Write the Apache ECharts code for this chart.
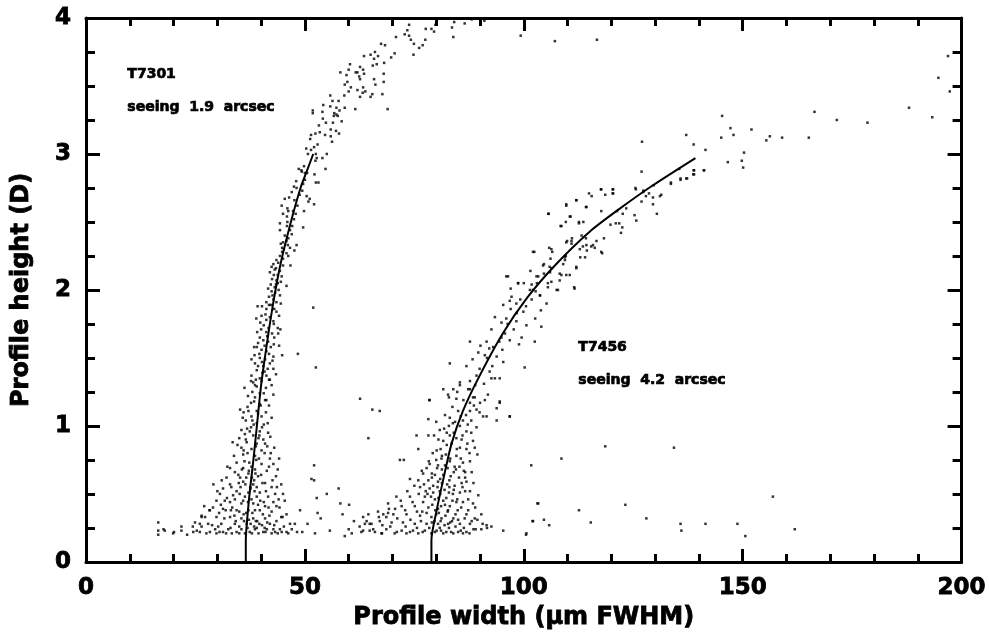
<!DOCTYPE html>
<html>
<head>
<meta charset="utf-8">
<script src="https://cdn.jsdelivr.net/npm/echarts@6/dist/echarts.min.js"></script>
<style>html,body{margin:0;padding:0;background:#fff}#c{width:989px;height:635px}</style>
</head>
<body>
<div id="c"></div>
<script>
// ---- Data (Profile width in um FWHM, Profile height in D) ----
const xTicks = [0, 50, 100, 150, 200];
const yTicks = [0, 1, 2, 3, 4];

const t7301Fit = [[36.5,0],[36.5,0.15],[37.2,0.45],[38.2,0.74],[39.1,1.02],[40.0,1.3],[41.3,1.6],[42.8,1.91],[44.5,2.2],[46.8,2.5],[49.0,2.75],[50.4,2.87],[51.9,3.0]];
const t7456Fit = [[78.9,0],[78.9,0.16],[80.1,0.38],[81.7,0.62],[83.5,0.87],[86.1,1.11],[89.6,1.35],[95.2,1.68],[100.7,1.94],[107.1,2.18],[115.1,2.43],[122.0,2.6],[129.5,2.77],[139.2,2.97]];

const t7301Upper = [
[73.8,3.95],[73.4,3.91],[72.8,3.88],[73.8,3.87],[74.2,3.84],[74.9,3.81],[74.8,3.73],[76.1,3.78],[76.9,3.80],[77.5,3.84],
[77.6,3.92],[78.9,3.92],[79.5,3.90],[79.8,3.95],[83.9,3.86],[84.1,3.97],[70.8,3.86],[67.4,3.81],[68.3,3.80],[66.0,3.75],
[65.0,3.73],[66.7,3.72],[65.8,3.70],[63.5,3.72],[70.5,3.74],[69.7,3.71],[68.1,3.67],[65.5,3.65],[66.4,3.66],[62.6,3.64],
[63.3,3.62],[61.6,3.60],[62.0,3.60],[60.3,3.66],[60.0,3.62],[59.5,3.58],[58.1,3.60],[62.4,3.57],[62.6,3.55],[63.5,3.59],
[68.0,3.59],[65.8,3.55],[68.0,3.53],[66.1,3.51],[59.7,3.53],[59.1,3.51],[60.5,3.49],[63.3,3.49],[62.0,3.47],[63.8,3.46],
[63.2,3.45],[60.0,3.46],[59.0,3.43],[62.6,3.42],[65.4,3.44],[65.0,3.42],[67.7,3.44],[55.8,3.43],[54.2,3.36],[56.3,3.39],
[57.7,3.39],[57.2,3.34],[55.8,3.35],[59.1,3.34],[61.5,3.33],[68.9,3.33],[51.8,3.32],[51.8,3.30],[54.0,3.31],[56.7,3.30],
[57.2,3.29],[57.9,3.32],[56.6,3.28],[57.5,3.28],[54.1,3.26],[58.4,3.24],[53.2,3.21],[54.8,3.23],[56.4,3.23],[55.9,3.18],
[53.4,3.16],[57.1,3.17],[57.8,3.15],[52.4,3.15],[51.4,3.14],[51.2,3.11],[54.6,3.14],[55.9,3.13],[56.2,3.09],[52.9,3.07],
[52.1,3.05],[50.3,3.04],[51.4,3.03],[50.7,3.00],[52.5,3.00],[55.0,3.00],[54.0,2.97],[52.7,2.97],[52.4,2.95],[49.8,2.91],
[48.6,2.89],[49.3,2.87],[54.7,2.89],[50.5,2.86],[83.6,3.93],[88.1,3.99],[99.3,3.87],[86.5,3.96],[91.0,3.98]
];

const t7301Mid = [
[49.2,2.88],[50.0,2.86],[52.2,2.85],[53.1,2.79],[52.5,2.79],[49.6,2.78],[47.5,2.76],[48.1,2.75],[47.0,2.72],[46.4,2.68],
[45.4,2.67],[50.4,2.69],[51.1,2.67],[50.8,2.65],[52.1,2.63],[44.7,2.62],[46.0,2.60],[47.3,2.58],[49.8,2.58],[45.0,2.56],
[47.9,2.56],[45.9,2.54],[44.3,2.49],[46.0,2.50],[47.1,2.47],[49.6,2.46],[44.3,2.44],[47.0,2.41],[46.2,2.38],[45.0,2.35],
[44.5,2.34],[45.8,2.36],[48.1,2.33],[45.2,2.30],[46.6,2.31],[47.6,2.29],[44.8,2.28],[45.8,2.27],[44.3,2.25],[43.5,2.22],
[45.0,2.23],[46.2,2.25],[42.8,2.19],[42.4,2.17],[46.7,2.18],[43.4,2.16],[44.3,2.14],[42.0,2.13],[42.9,2.11],[43.8,2.11],
[44.7,2.10],[42.5,2.08],[43.5,2.07],[45.8,2.03],[43.8,2.05],[41.6,2.01],[42.4,1.99],[43.2,1.98],[44.3,1.96],[41.8,1.95],
[42.8,1.93],[41.2,1.91],[43.5,1.91],[44.5,1.90],[39.2,1.88],[40.2,1.88],[42.2,1.89],[41.2,1.86],[43.5,1.84],[40.1,1.81],
[42.0,1.80],[44.1,1.81],[41.2,1.78],[42.8,1.77],[40.6,1.74],[43.8,1.72],[44.4,1.71],[39.1,1.69],[41.2,1.69],[42.5,1.68],
[39.7,1.65],[40.5,1.63],[43.0,1.65],[39.3,1.61],[41.6,1.62],[42.2,1.58],[44.1,1.59],[40.1,1.56],[41.2,1.55],[38.5,1.52],
[42.8,1.51],[37.8,1.49],[39.7,1.50],[40.9,1.49],[38.6,1.46],[42.0,1.46],[39.3,1.44],[40.5,1.44],[42.8,1.42],[37.8,1.37],
[38.8,1.34],[39.7,1.35],[41.2,1.37],[41.8,1.34],[42.4,1.30],[38.2,1.32],[40.8,1.40],[39.0,1.58],[41.7,1.72],[43.1,2.02],
[40.3,1.39],[41.5,1.42],[39.0,1.41],[42.6,1.48],[40.2,1.47],[41.8,1.53],[39.6,1.53],[40.8,1.59],[42.9,1.60],[41.4,1.66],
[40.0,1.71],[42.9,1.75],[41.0,1.82],[43.0,1.86],[41.8,1.89],[42.6,1.96],[44.0,2.00],[43.4,2.04],[42.2,2.04],[44.5,2.06],
[43.1,2.15],[45.0,2.18],[43.9,2.20],[44.8,2.31],[46.1,2.33],[45.4,2.40],[46.6,2.44],[45.9,2.47],[47.5,2.52],[46.2,2.58],
[48.3,2.62],[47.6,2.66],[48.8,2.70],[49.4,2.73],[48.0,2.80],[50.0,2.81],[39.8,1.76],[38.9,1.79],[43.9,1.68],[44.8,1.52],
[38.4,1.58],[43.4,1.38]
];

const t7301Low = [
[37.7,1.33],[40.1,1.33],[42.0,1.34],[39.0,1.29],[41.1,1.28],[39.7,1.24],[42.8,1.23],[38.6,1.21],[40.9,1.19],[37.7,1.17],
[39.7,1.16],[41.8,1.15],[35.2,1.12],[37.1,1.11],[39.0,1.11],[41.1,1.10],[37.8,1.07],[40.1,1.07],[42.4,1.06],[36.5,1.04],
[39.0,1.02],[40.6,1.01],[37.7,0.99],[35.5,0.97],[39.7,0.96],[41.6,0.95],[36.3,0.94],[38.2,0.93],[35.0,0.91],[40.5,0.90],
[33.5,0.88],[36.7,0.88],[39.0,0.87],[41.4,0.85],[35.5,0.84],[37.8,0.83],[40.1,0.82],[35.9,0.79],[38.6,0.78],[42.0,0.76],
[44.1,0.76],[34.4,0.73],[37.3,0.73],[40.1,0.72],[42.8,0.72],[32.9,0.69],[35.9,0.69],[38.6,0.68],[41.3,0.67],[43.4,0.63],
[34.0,0.66],[37.1,0.65],[39.3,0.63],[32.1,0.62],[35.2,0.62],[29.1,0.57],[32.9,0.57],[35.9,0.59],[38.2,0.57],[40.9,0.58],
[42.4,0.55],[31.3,0.54],[34.4,0.52],[37.1,0.51],[39.7,0.51],[30.6,0.50],[33.6,0.49],[36.3,0.48],[39.0,0.48],[41.6,0.48],
[45.4,0.45],[29.8,0.45],[32.9,0.44],[35.5,0.43],[38.2,0.43],[40.9,0.41],[43.5,0.41],[28.3,0.38],[31.3,0.39],[34.4,0.38],
[37.1,0.38],[39.7,0.38],[42.4,0.37],[45.8,0.35],[26.4,0.34],[29.8,0.33],[32.9,0.33],[35.5,0.32],[38.2,0.32],[40.9,0.32],
[43.5,0.30],[24.9,0.29],[27.9,0.28],[30.9,0.28],[34.0,0.28],[36.7,0.28],[39.6,0.28],[42.0,0.28],[46.6,0.28],[47.7,0.28],
[26.4,0.26],[29.5,0.24],[32.5,0.24],[35.5,0.24],[38.6,0.24],[41.3,0.24],[44.3,0.24],[24.5,0.22],[28.3,0.22],[31.3,0.22],
[34.4,0.22],[37.4,0.22],[40.5,0.22],[43.2,0.22],[44.7,0.22],[29.8,0.21],[33.3,0.21],[36.3,0.21],[39.4,0.21],[42.4,0.21],
[38.0,1.25],[36.8,0.98],[38.9,0.75],[37.5,0.55],[36.0,0.35],[38.8,0.30],[37.9,0.62],[39.4,0.91],[36.9,0.80],[40.3,0.58],
[38.5,0.52],[37.0,0.44],[39.8,0.45],[41.7,0.40],[36.4,0.57],[35.1,0.50],[38.0,0.36],[40.2,0.27],[37.2,0.31],[38.4,0.26],
[16.5,0.29],[16.5,0.23],[16.5,0.20],[17.7,0.24],[18.0,0.23],[19.9,0.21],[20.1,0.22],[21.8,0.26],[21.8,0.23],[23.1,0.20],
[24.4,0.26],[26.0,0.28],[26.4,0.33],[28.2,0.38],[25.3,0.23],[30.4,0.36],[27.0,0.41],[31.7,0.45],[33.4,0.40],[44.6,0.33],
[36.2,1.28],[38.4,1.18],[40.6,1.24],[36.9,1.14],[39.3,1.09],[41.5,1.02],[35.8,1.06],[38.0,1.04],[40.2,0.99],[37.4,0.96],
[39.6,0.93],[42.1,0.92],[34.6,0.86],[36.5,0.90],[38.8,0.85],[40.8,0.80],[43.0,0.84],[33.8,0.78],[36.2,0.74],[37.8,0.70],
[39.5,0.76],[41.8,0.70],[43.8,0.68],[32.3,0.70],[34.8,0.64],[36.6,0.62],[38.4,0.60],[40.0,0.64],[42.6,0.60],[44.6,0.57],
[31.0,0.60],[33.2,0.55],[35.3,0.55],[37.6,0.54],[39.0,0.55],[41.1,0.52],[43.2,0.50],[30.0,0.52],[32.2,0.47],[34.0,0.46],
[35.9,0.45],[37.8,0.46],[39.3,0.42],[40.6,0.44],[42.8,0.44],[44.2,0.40],[29.0,0.40],[30.8,0.42],[33.1,0.38],[35.0,0.37],
[36.6,0.36],[38.6,0.38],[40.4,0.35],[41.9,0.34],[44.9,0.33],[27.2,0.33],[31.6,0.32],[34.2,0.30],[36.1,0.30],[37.6,0.28],
[39.1,0.30],[41.4,0.29],[43.0,0.27],[45.2,0.26],[47.0,0.24],[28.8,0.27],[30.2,0.26],[33.0,0.25],[35.0,0.26],[36.9,0.25],
[39.0,0.25],[40.8,0.25],[42.8,0.24],[45.8,0.22],[26.0,0.22],[27.5,0.21],[30.5,0.22],[32.0,0.21],[35.0,0.21],[37.9,0.21],
[41.0,0.22],[43.8,0.21],[46.2,0.21],[48.2,0.22],[38.6,1.30],[37.0,1.22],[39.9,1.15],[38.3,1.01],[36.0,0.82],[40.9,0.87],
[37.2,0.67],[42.2,0.80],[35.6,0.68],[38.7,0.65],[34.9,0.58],[43.6,0.55],[31.9,0.38],[33.9,0.34],[44.0,0.46],[45.0,0.50],
[36.0,1.10],[41.2,1.19]
];

const t7456Low = [
[87.7,1.33],[87.3,1.27],[85.4,1.30],[92.6,1.35],[94.5,1.35],[91.8,1.23],[81.6,1.27],[82.9,1.21],[84.6,1.20],[88.4,1.21],
[87.7,1.17],[91.1,1.19],[94.5,1.17],[93.8,1.13],[89.2,1.12],[85.0,1.11],[87.7,1.11],[90.7,1.07],[96.8,1.07],[93.8,1.04],
[88.0,1.04],[86.1,1.04],[83.1,1.06],[78.2,1.05],[82.9,1.00],[85.4,1.00],[89.2,0.99],[80.8,0.97],[86.9,0.96],[78.2,0.93],
[79.5,0.93],[83.1,0.93],[84.6,0.91],[75.5,0.93],[88.4,0.89],[81.6,0.89],[83.5,0.87],[85.4,0.84],[86.9,0.83],[88.8,0.84],
[75.9,0.83],[80.1,0.82],[82.2,0.79],[84.6,0.78],[89.4,0.79],[81.2,0.76],[83.1,0.74],[86.1,0.73],[87.7,0.74],[71.7,0.75],
[72.6,0.75],[78.5,0.72],[80.4,0.71],[77.8,0.69],[82.6,0.69],[84.5,0.68],[86.3,0.67],[88.1,0.66],[77.0,0.65],[79.7,0.64],
[81.6,0.64],[83.3,0.63],[85.2,0.62],[86.9,0.59],[74.0,0.61],[75.9,0.60],[78.2,0.60],[80.4,0.59],[82.5,0.57],[84.2,0.56],
[76.3,0.55],[78.5,0.54],[80.8,0.52],[82.9,0.51],[85.4,0.51],[87.7,0.52],[89.6,0.49],[70.9,0.48],[74.0,0.48],[77.4,0.48],
[79.7,0.46],[81.6,0.45],[83.7,0.45],[86.1,0.44],[88.4,0.43],[69.0,0.43],[72.1,0.41],[75.1,0.41],[78.2,0.40],[80.4,0.39],
[82.7,0.38],[84.9,0.38],[87.3,0.38],[90.3,0.35],[66.7,0.37],[70.2,0.35],[73.2,0.35],[76.3,0.34],[78.9,0.33],[81.2,0.32],
[83.9,0.32],[86.5,0.32],[88.8,0.32],[64.1,0.30],[67.1,0.30],[69.8,0.29],[72.4,0.29],[75.1,0.28],[77.8,0.28],[80.4,0.28],
[82.7,0.28],[85.4,0.28],[87.7,0.28],[91.5,0.27],[92.6,0.26],[65.6,0.24],[68.6,0.24],[72.1,0.23],[74.7,0.23],[77.4,0.23],
[80.1,0.23],[82.3,0.22],[85.0,0.22],[86.9,0.22],[63.3,0.23],[67.5,0.21],[70.5,0.21],[73.2,0.21],[75.9,0.21],[78.9,0.21],
[81.6,0.21],[83.9,0.21],[86.1,0.21],[91.6,0.25],[90.3,0.24],[78.4,1.19],
[80.9,0.50],[79.0,0.62],[81.0,0.83],[82.0,0.42],[79.6,0.30],[83.0,0.55],[84.2,0.70],[80.6,0.36],[81.9,0.27],[84.8,0.46],
[79.3,0.51],[80.0,0.75],[85.8,0.90],[83.8,1.02],[82.4,0.95],[76.8,0.37],[77.6,0.52],[81.3,0.58],[86.6,0.62],[83.6,0.30],
[84.8,1.25],[86.2,1.19],[83.7,1.14],[88.6,1.15],[85.6,1.07],[84.3,1.03],[87.2,1.01],[81.8,0.98],[84.0,0.95],[86.0,0.93],
[80.5,0.90],[82.4,0.86],[84.7,0.83],[87.6,0.80],[79.2,0.80],[81.3,0.78],[83.2,0.76],[85.6,0.76],[78.3,0.74],[80.2,0.69],
[82.0,0.71],[84.0,0.66],[86.6,0.66],[76.7,0.67],[79.0,0.65],[80.9,0.61],[83.0,0.60],[85.8,0.58],[88.5,0.58],[75.0,0.56],
[77.2,0.57],[79.3,0.56],[81.9,0.53],[84.0,0.53],[86.6,0.52],[73.4,0.52],[76.0,0.50],[78.0,0.50],[80.5,0.47],[82.3,0.47],
[84.6,0.44],[87.3,0.46],[71.9,0.45],[74.6,0.44],[77.0,0.44],[79.1,0.42],[81.1,0.41],[83.1,0.41],[85.7,0.40],[88.9,0.40],
[70.6,0.39],[72.9,0.38],[75.6,0.37],[77.8,0.36],[80.0,0.35],[82.1,0.34],[84.4,0.35],[86.9,0.35],[89.4,0.31],[68.6,0.33],
[71.1,0.32],[74.1,0.31],[76.5,0.30],[79.0,0.29],[81.0,0.30],[83.2,0.29],[85.0,0.31],[88.1,0.30],[90.6,0.28],[69.5,0.26],
[73.0,0.26],[75.6,0.25],[78.4,0.25],[80.8,0.25],[82.9,0.25],[84.4,0.26],[86.3,0.25],[89.0,0.24],[71.0,0.22],[74.0,0.22],
[76.9,0.22],[79.7,0.22],[81.1,0.23],[83.4,0.22],[85.6,0.23],[87.6,0.21],[88.5,0.24],[66.0,0.22],[62.5,0.26],[61.2,0.30],
[60.0,0.24],[64.8,0.28],[69.0,0.36],[86.8,1.08],[89.9,1.10],[88.0,0.95],[82.0,1.08],[80.0,1.03],[87.1,0.87],[85.3,0.70],
[81.3,0.68],[83.8,0.50],[86.0,0.55],[80.3,0.55],[78.8,0.48],[82.6,0.37],[79.8,0.38]
];

const t7456Upper = [
[105.7,2.56],[109.7,2.63],[112.0,2.66],[114.3,2.61],[110.5,2.54],[112.6,2.50],[108.6,2.47],[106.3,2.30],[102.1,2.28],[109.7,2.35],
[110.9,2.36],[112.8,2.30],[114.3,2.33],[115.4,2.32],[116.6,2.36],[117.7,2.28],[109.4,2.24],[104.4,2.18],[105.9,2.17],[112.0,2.17],
[108.2,2.12],[98.7,2.05],[102.9,2.10],[105.5,2.05],[107.8,2.00],[111.6,2.01],[96.0,2.10],[97.2,1.95],[102.1,2.00],[103.7,1.96],
[101.8,1.93],[105.2,1.90],[95.3,1.89],[98.3,1.90],[99.9,1.84],[103.9,1.85],[93.4,1.80],[96.0,1.79],[98.3,1.77],[100.6,1.74],
[104.0,1.73],[92.6,1.71],[94.9,1.65],[96.8,1.63],[99.5,1.65],[102.5,1.62],[91.5,1.62],[87.7,1.62],[89.6,1.54],[91.1,1.52],
[93.8,1.51],[95.3,1.47],[100.2,1.43],[83.1,1.46],[86.9,1.44],[92.2,1.40],[93.4,1.35],[89.2,1.37],[83.9,1.27],[85.4,1.32],
[87.7,1.27],[88.8,1.21],[90.0,1.17],[94.5,1.18],[91.5,1.07],[96.8,1.07],[78.5,1.19],[82.7,1.23],
[88.9,1.30],[90.9,1.31],[89.9,1.42],[92.8,1.44],[91.6,1.50],[93.0,1.58],[94.4,1.62],[92.1,1.57],[95.7,1.68],[97.7,1.71],
[96.3,1.75],[94.9,1.76],[98.4,1.83],[97.0,1.86],[100.5,1.88],[99.2,1.93],[101.4,2.00],[100.0,2.05],[103.0,2.05],[104.6,2.12],
[101.5,2.14],[106.1,2.23],[95.1,1.56],[90.1,1.59],[88.3,1.49],[96.8,1.92],[98.9,1.60],[102.6,1.79],
[145.3,3.28],[145.1,3.12],[146.6,2.94],[137.1,3.14],[138.8,3.07],[127.0,3.09],[126.9,2.87],[141.1,2.88],[138.8,2.88],[138.7,2.85],
[137.3,2.82],[135.8,2.81],[135.5,2.89],[133.6,2.78],[129.7,2.77],[125.6,2.74],[127.3,2.72],[127.9,2.69],[128.6,2.71],[129.5,2.68],
[131.1,2.69],[131.4,2.70],[126.9,2.65],[129.5,2.63],[130.4,2.56],[120.4,2.74],[117.7,2.74],[114.9,2.71],[115.5,2.69],[118.6,2.70],
[120.4,2.71],[112.0,2.66],[109.7,2.62],[114.2,2.61],[117.7,2.58],[121.3,2.58],[123.4,2.60],[122.6,2.56],[125.3,2.55],[125.7,2.51],
[105.6,2.56],[110.7,2.54],[109.6,2.50],[112.6,2.49],[113.6,2.50],[108.4,2.47],[119.8,2.48],[121.0,2.49],[121.8,2.49],[122.5,2.46],
[122.2,2.42],[118.3,2.38],[115.8,2.33],[117.9,2.27],[113.2,2.40],[114.2,2.38],[111.0,2.38],[109.9,2.36],[110.9,2.34],[113.5,2.32],
[114.4,2.29],[116.2,2.31],[105.8,2.31],[106.5,2.28],[102.4,2.28],[109.6,2.25],[112.9,2.24],[114.0,2.24],[109.4,2.22],[109.0,2.19],
[104.6,2.19],[106.3,2.16],[106.0,2.13],[112.0,2.16],[110.5,2.11],[109.7,2.11],[108.6,2.11],[103.3,2.10],[108.2,2.07],[106.3,2.06],
[105.5,2.02],[107.5,2.00],[96.4,2.10],[98.7,2.05],[97.0,2.01],[101.8,2.04],[102.7,1.99],[103.7,1.96],[111.5,2.02],
[147.2,3.19],[147.9,3.14],[155.4,3.10],[156.2,3.13],[159.0,3.12],[165.1,3.12],[150.3,3.01],[149.8,2.95],[150.1,2.90],[141.2,2.88],
[138.9,2.88],[138.9,2.85],[135.8,2.82],[137.1,2.82],[133.6,2.79],[125.5,2.75],[127.3,2.73],[117.6,2.74],[120.3,2.74],[120.3,2.71],
[166.4,3.31],[171.5,3.25],[178.5,3.23],[188.0,3.34],[193.3,3.27],[196.9,3.72],[194.7,3.56],[197.3,3.46],[152.0,3.18],[141.5,3.03]
];

const outliers = [
[62.6,1.20],[65.4,1.12],[67.1,1.11],[64.5,0.91],[52.1,0.71],[51.5,0.61],[52.1,0.60],[52.7,0.47],[55.0,0.50],[57.7,0.54],
[58.1,0.43],[60.1,0.42],[52.9,0.36],[58.6,0.35],[48.9,0.38],[50.6,0.28],[53.6,0.32],[49.4,0.22],[52.3,0.21],[55.7,0.23],
[59.1,0.19],[60.7,0.21],[63.3,0.33],[64.5,0.35],[63.7,0.28],[62.9,0.22],[65.2,0.28],[64.8,0.23],[66.9,0.33],[67.7,0.27],
[67.6,0.21],[69.2,0.39],[67.9,0.35],[51.9,1.87],[48.4,1.53],[52.5,1.43],
[118.6,0.85],[134.3,0.84],[108.6,0.76],[101.7,0.71],[103.3,0.43],[112.6,0.38],[123.2,0.42],[128.0,0.32],[102.1,0.30],[104.6,0.31],
[105.8,0.27],[115.3,0.29],[135.8,0.28],[136.0,0.23],[148.8,0.28],[150.6,0.19],[100.5,0.20],[95.3,0.23],[156.9,0.48],[161.9,0.24],
[141.5,0.28],[102.0,0.30],[103.1,0.43],[100.6,0.21],[116.7,3.84],[107.1,3.83]
];

// ---- Chart ----
const chart = echarts.init(document.getElementById('c'), null, {renderer: 'canvas'});
const FONT = 'DejaVu Sans';
const axisLine = {show: true, onZero: false, lineStyle: {color: '#000', width: 3}};
const scatterStyle = {type: 'scatter', symbol: 'rect', symbolSize: 2.5, itemStyle: {color: '#000'}, silent: true, xAxisIndex: 0, yAxisIndex: 0};
const tickFont = {color: '#000', fontFamily: FONT, fontWeight: 'bold', fontSize: 23, textBorderColor: '#000', textBorderWidth: 0.8};
const nameFont = {color: '#000', fontFamily: FONT, fontWeight: 'bold', fontSize: 24, textBorderColor: '#000', textBorderWidth: 0.8};

function xAx(pos, showLabel) {
  return {
    type: 'value', position: pos, min: xTicks[0], max: xTicks[xTicks.length - 1], interval: 50,
    axisLine: axisLine,
    axisTick: {show: true, inside: true, length: 13, lineStyle: {color: '#000', width: 3}},
    minorTick: {show: true, splitNumber: 5, length: 8, lineStyle: {color: '#000', width: 3}},
    splitLine: {show: false},
    axisLabel: Object.assign({show: showLabel, margin: 15}, tickFont),
    name: showLabel ? 'Profile width (\u03bcm FWHM)' : '', nameLocation: 'middle', nameGap: 42,
    nameTextStyle: nameFont
  };
}
function yAx(pos, showLabel) {
  return {
    type: 'value', position: pos, min: yTicks[0], max: yTicks[yTicks.length - 1], interval: 1,
    axisLine: axisLine,
    axisTick: {show: true, inside: true, length: 14, lineStyle: {color: '#000', width: 3}},
    minorTick: {show: true, splitNumber: 4, length: 9, lineStyle: {color: '#000', width: 3}},
    splitLine: {show: false},
    axisLabel: Object.assign({show: showLabel, margin: 15}, tickFont),
    name: showLabel ? 'Profile height (D)' : '', nameLocation: 'middle', nameGap: 52, nameRotate: 90,
    nameTextStyle: nameFont
  };
}

const labelStyle = {fill: '#000', font: 'bold 14px "DejaVu Sans"', stroke: '#000', lineWidth: 0.7};

chart.setOption({
  animation: false,
  backgroundColor: '#fff',
  grid: {left: 86, right: 27, top: 18, bottom: 70, containLabel: false},
  xAxis: [xAx('bottom', true), xAx('top', false)],
  yAxis: [yAx('left', true), yAx('right', false)],
  series: [
    Object.assign({data: t7301Upper}, scatterStyle),
    Object.assign({data: t7301Mid}, scatterStyle),
    Object.assign({data: t7301Low}, scatterStyle),
    Object.assign({data: t7456Low}, scatterStyle),
    Object.assign({data: t7456Upper}, scatterStyle),
    Object.assign({data: outliers}, scatterStyle),
    {type: 'line', data: t7301Fit, smooth: 0.25, showSymbol: false, lineStyle: {color: '#000', width: 2}, silent: true},
    {type: 'line', data: t7456Fit, smooth: 0.25, showSymbol: false, lineStyle: {color: '#000', width: 2}, silent: true}
  ],
  graphic: [
    {type: 'text', left: 127, top: 67, style: Object.assign({text: 'T7301'}, labelStyle)},
    {type: 'text', left: 127, top: 100, style: Object.assign({text: 'seeing  1.9  arcsec'}, labelStyle)},
    {type: 'text', left: 578, top: 340, style: Object.assign({text: 'T7456'}, labelStyle)},
    {type: 'text', left: 578, top: 373, style: Object.assign({text: 'seeing  4.2  arcsec'}, labelStyle)}
  ]
});
</script>
</body>
</html>
